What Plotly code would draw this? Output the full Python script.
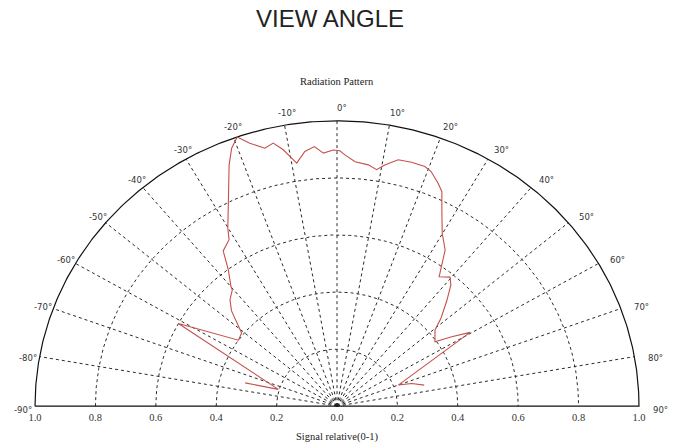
import numpy as np
import plotly.graph_objects as go

# ---- data ----
angle_deg = [-75.0, -73.2, -61.1, -54.7, -50.9, -47.9, -46.3, -43.6, -40.4, -40.0,
             -37.0, -34.7, -31.5, -30.1, -25.9, -22.9, -21.1, -19.3, -17.4, -14.8,
             -12.9, -11.2, -9.8, -8.9, -6.8, -4.7, -2.9, -0.8, 0.6, 1.7,
             4.0, 7.0, 9.0, 10.6, 13.2, 16.1, 19.1, 20.7, 23.2, 24.8,
             26.8, 29.9, 33.2, 35.2, 36.7, 39.6, 41.6, 44.5, 48.1, 50.6,
             55.2, 57.4, 59.6, 70.0, 72.2, 75.7]
signal = [0.315, 0.203, 0.600, 0.400, 0.407, 0.451, 0.483, 0.514, 0.535, 0.546,
          0.598, 0.662, 0.684, 0.721, 0.823, 0.918, 0.969, 1.0, 0.966, 0.935,
          0.946, 0.916, 0.882, 0.862, 0.899, 0.913, 0.888, 0.898, 0.895, 0.881,
          0.859, 0.852, 0.839, 0.860, 0.887, 0.890, 0.889, 0.880, 0.850, 0.828,
          0.770, 0.699, 0.654, 0.598, 0.566, 0.587, 0.568, 0.519, 0.463, 0.420,
          0.395, 0.451, 0.511, 0.216, 0.260, 0.298]
grid_angles = [-80, -70, -60, -50, -40, -30, -20, -10, 0, 10, 20, 30, 40, 50, 60, 70, 80]
label_angles = [-90, -80, -70, -60, -50, -40, -30, -20, -10, 0, 10, 20, 30, 40, 50, 60, 70, 80, 90]
grid_radii = [0.2, 0.4, 0.6, 0.8]
x_tick_vals = [-1.0, -0.8, -0.6, -0.4, -0.2, 0.0, 0.2, 0.4, 0.6, 0.8, 1.0]
x_tick_text = ["1.0", "0.8", "0.6", "0.4", "0.2", "0.0", "0.2", "0.4", "0.6", "0.8", "1.0"]

XR = [-1.01, 1.01]
YR = [-0.01, 1.01]


def px(xd):
    return (xd - XR[0]) / (XR[1] - XR[0])


def py(yd):
    return (yd - YR[0]) / (YR[1] - YR[0])


GRID = "#2a2a2a"
fig = go.Figure()

# radial spokes
sx, sy = [], []
for a in grid_angles:
    t = np.radians(a)
    sx += [0, np.sin(t), None]
    sy += [0, np.cos(t), None]
fig.add_trace(go.Scatter(x=sx, y=sy, mode="lines",
                         line=dict(color=GRID, width=1, dash="3px,3px"),
                         hoverinfo="skip", showlegend=False))

# arcs
th = np.radians(np.linspace(-90, 90, 361))
cx, cy = [], []
for r in grid_radii:
    cx += list(r * np.sin(th)) + [None]
    cy += list(r * np.cos(th)) + [None]
fig.add_trace(go.Scatter(x=cx, y=cy, mode="lines",
                         line=dict(color=GRID, width=1, dash="3px,3px"),
                         hoverinfo="skip", showlegend=False))
# outer arc + baseline
ox = list(np.sin(th)) + [1.0, -1.0]
oy = list(np.cos(th)) + [0.0, 0.0]
fig.add_trace(go.Scatter(x=ox, y=oy, mode="lines",
                         line=dict(color="#111111", width=1.2),
                         hoverinfo="skip", showlegend=False))

# pattern
ta = np.radians(angle_deg)
sig = np.array(signal)
fig.add_trace(go.Scatter(x=sig * np.sin(ta), y=sig * np.cos(ta), mode="lines",
                         line=dict(color="#c4504c", width=1.1),
                         hoverinfo="skip", showlegend=False))

ann = []
for a in label_angles:
    t = np.radians(a)
    ann.append(dict(x=px(1.055 * np.sin(t)), y=py(1.045 * np.cos(t)),
                    xref="paper", yref="paper", xanchor="center", yanchor="middle",
                    text=f"{a}°", showarrow=False, xshift=5,
                    yshift=-3.5 * abs(np.sin(t)),
                    font=dict(family="DejaVu Sans", size=8.5, color="#333333")))
ann.append(dict(x=px(0.0), y=py(1.138), xref="paper", yref="paper",
                xanchor="center", yanchor="middle",
                text="Radiation Pattern", showarrow=False,
                font=dict(family="Liberation Serif", size=10.5, color="#222222")))
ann.append(dict(x=px(-0.022), y=py(1.358), xref="paper", yref="paper",
                xanchor="center", yanchor="middle",
                text="VIEW ANGLE", showarrow=False,
                font=dict(family="Liberation Sans", size=24, color="#222222")))
ann.append(dict(x=px(0.0), y=py(-0.109), xref="paper", yref="paper",
                xanchor="center", yanchor="middle",
                text="Signal relative(0-1)", showarrow=False,
                font=dict(family="Liberation Serif", size=10.5, color="#222222")))

fig.update_layout(
    width=681, height=445,
    margin=dict(l=32, r=39, t=118, b=36),
    paper_bgcolor="white", plot_bgcolor="white",
    hovermode=False,
    annotations=ann,
    xaxis=dict(range=XR, tickvals=x_tick_vals, ticktext=x_tick_text,
               showgrid=False, zeroline=False, showline=False, ticks="",
               tickfont=dict(family="Liberation Serif", size=10.5, color="#333333"),
               fixedrange=True),
    yaxis=dict(range=YR, showgrid=False, zeroline=False,
               showline=False, showticklabels=False, fixedrange=True),
)

fig.write_html("out.html", config={"displayModeBar": False},
               post_script="document.body.style.margin='0';")
